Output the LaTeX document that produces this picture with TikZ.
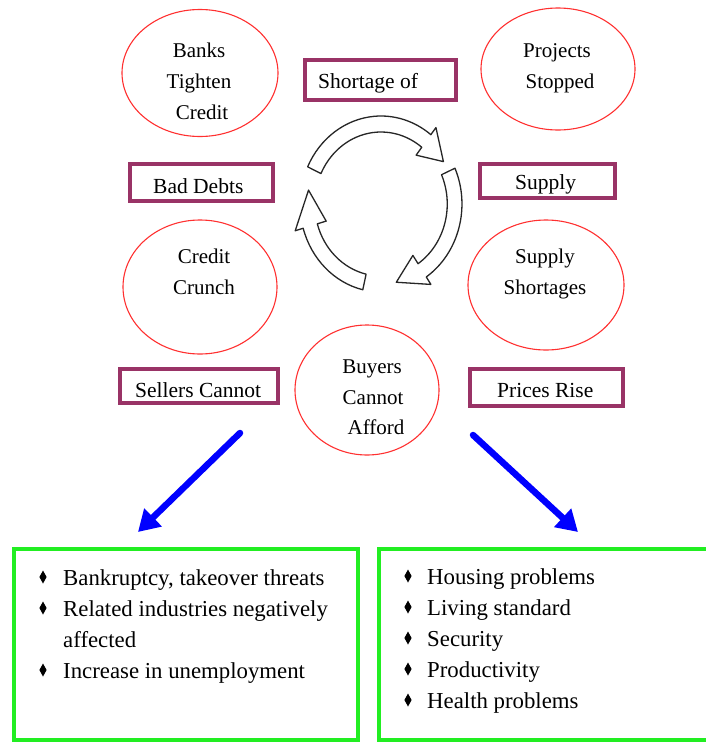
\documentclass[tikz,border=0pt]{standalone}
\usepackage{fontspec}
\setmainfont{Liberation Serif}
\usetikzlibrary{shapes.geometric,arrows.meta}
\definecolor{plum}{HTML}{993366}
\definecolor{limeg}{HTML}{22EE22}
\definecolor{ered}{HTML}{FF3030}
\newcommand\cRo{88pt}
\newcommand\cRi{72pt}
\newcommand\cRm{80pt}
\newcommand\cRho{97pt}
\newcommand\cRhi{62pt}
\newcommand\cycarrow[3]{%
  \draw[cyc] (#1:\cRo) arc[start angle=#1, end angle=#2, radius=\cRo]
    -- (#2:\cRho) -- (#3:\cRm) -- (#2:\cRhi) -- (#2:\cRi)
    arc[start angle=#2, end angle=#1, radius=\cRi] -- cycle;}
\newcommand\dmd[2]{\fill (#1,#2) +(0,-6.5) -- +(3.6,0) -- +(0,6.5) -- +(-3.6,0) -- cycle;}
\begin{document}
\begin{tikzpicture}[x=1pt,y=-1pt]
\tikzset{
 ell/.style={draw=ered, line width=1.1pt, ellipse, inner sep=0pt},
 tag/.style={draw=plum, line width=4pt, rectangle, inner sep=0pt},
 lbl/.style={font=\fontsize{21}{25}\selectfont, anchor=base, inner sep=0pt},
 tlbl/.style={font=\fontsize{21.5}{25}\selectfont, anchor=base west, inner sep=0pt},
 itm/.style={font=\fontsize{22.8}{27}\selectfont, anchor=base west, inner sep=0pt},
 res/.style={draw=limeg, line width=4pt, rectangle, inner sep=0pt},
 push/.style={draw=blue, line width=6.5pt, line cap=round, -{Triangle[length=21pt,width=24pt]}},
 cyc/.style={draw=black!85, line width=1.3pt, fill=white, line join=round},
}
\useasboundingbox (0,0) rectangle (706,742);

% ellipses
\node[ell, minimum width=156pt, minimum height=127pt] (e1) at (200,73) {};
\node[ell, minimum width=154pt, minimum height=122pt] (e2) at (558,69) {};
\node[ell, minimum width=154pt, minimum height=134pt] (e3) at (200,287) {};
\node[ell, minimum width=156pt, minimum height=130pt] (e4) at (546,285) {};
\node[ell, minimum width=144pt, minimum height=130pt] (e5) at (367,390) {};

\node[lbl] (t11) at (199,57) {Banks};
\node[lbl] (t12) at (199,88) {Tighten};
\node[lbl] (t13) at (202,119) {Credit};
\node[lbl] (t21) at (557,57) {Projects};
\node[lbl] (t22) at (560,88) {Stopped};
\node[lbl] (t31) at (204,263) {Credit};
\node[lbl] (t32) at (204,294) {Crunch};
\node[lbl] (t41) at (545,263) {Supply};
\node[lbl] (t42) at (545,294) {Shortages};
\node[lbl] (t51) at (372,373) {Buyers};
\node[lbl] (t52) at (373,404) {Cannot};
\node[lbl] (t53) at (376,434) {Afford};

% tags
\node[tag, minimum width=151pt, minimum height=40pt] (r1) at (380.5,80) {};
\node[tag, minimum width=143pt, minimum height=37pt] (r2) at (201.5,182.5) {};
\node[tag, minimum width=135pt, minimum height=34pt] (r3) at (547.5,181) {};
\node[tag, minimum width=158pt, minimum height=34pt] (r4) at (199,386) {};
\node[tag, minimum width=153pt, minimum height=37pt] (r5) at (546.5,387.5) {};
\node[tlbl] (s1) at (318,88) {Shortage of};
\node[tlbl] (s2) at (153,193) {Bad Debts};
\node[tlbl] (s3) at (515,189) {Supply};
\node[tlbl] (s4) at (135,397) {Sellers Cannot};
\node[tlbl] (s5) at (497,397) {Prices Rise};

% cycle arrows
\begin{scope}[shift={(381,204)}, xscale=0.92]
\cycarrow{155}{52}{32}
\cycarrow{24}{-56}{-78}
\cycarrow{257}{196}{170}
\end{scope}

% blue arrows
\coordinate (la) at (240,433);
\coordinate (lb) at (138,532);
\coordinate (ra) at (473,435);
\coordinate (rb) at (578,532);
\draw[push] (la) -- (lb);
\draw[push] (ra) -- (rb);

% result boxes
\node[res, minimum width=344pt, minimum height=191pt] (b1) at (186,644.5) {};
\node[res, minimum width=343pt, minimum height=191pt] (b2) at (550.5,644.5) {};

\dmd{43}{577}
\dmd{43}{608}
\dmd{43}{670}
\node[itm] (i11) at (63,585) {Bankruptcy, takeover threats};
\node[itm] (i12) at (63,616) {Related industries negatively};
\node[itm] (i13) at (63,647) {affected};
\node[itm] (i14) at (63,678) {Increase in unemployment};

\dmd{408}{576}
\dmd{408}{607}
\dmd{408}{638}
\dmd{408}{669}
\dmd{408}{700}
\node[itm] (i21) at (427,584) {Housing problems};
\node[itm] (i22) at (427,615) {Living standard};
\node[itm] (i23) at (427,646) {Security};
\node[itm] (i24) at (427,677) {Productivity};
\node[itm] (i25) at (427,708) {Health problems};
\end{tikzpicture}
\end{document}
